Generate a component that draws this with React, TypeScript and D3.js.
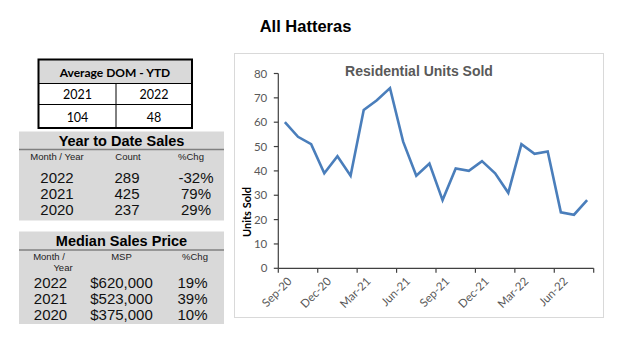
import React from "react";
import * as d3 from "d3";

const months = [
  "Sep-20","Oct-20","Nov-20","Dec-20","Jan-21","Feb-21","Mar-21","Apr-21","May-21","Jun-21","Jul-21","Aug-21",
  "Sep-21","Oct-21","Nov-21","Dec-21","Jan-22","Feb-22","Mar-22","Apr-22","May-22","Jun-22","Jul-22","Aug-22",
];
const unitsSold = [60,54,51,39,46,38,65,69,74,52,38,43,28,41,40,44,39,31,51,47,48,23,22,28];
const yTicks = [0,10,20,30,40,50,60,70,80];

const domYears = ["2021","2022"];
const domValues = ["104","48"];

const ytdYears = ["2022","2021","2020"];
const ytdCounts = ["289","425","237"];
const ytdChg = ["-32%","79%","29%"];

const mspYears = ["2022","2021","2020"];
const mspValues = ["$620,000","$523,000","$375,000"];
const mspChg = ["19%","39%","10%"];

const ARIAL = "'Liberation Sans', Arial, sans-serif";
const CAL = "Lato, 'Open Sans', sans-serif";

export default function App() {
  const x0 = 278.3, x1 = 593.7;
  const x = d3.scaleBand<string>().domain(months).range([x0, x1]).paddingInner(0).paddingOuter(0);
  const y = d3.scaleLinear().domain([0, 80]).range([268.3, 73.5]);
  const line = d3.line<number>()
    .x((_, i) => (x(months[i]) as number) + x.bandwidth() / 2)
    .y((d) => y(d));
  const tickIdx = d3.range(0, months.length + 1, 3);
  const labelIdx = d3.range(0, months.length, 3);

  return (
    <svg width={624} height={344} style={{ position: "absolute", left: 0, top: 0, background: "#fff" }}>
      <text x={305.5} y={31.5} textAnchor="middle" fontFamily={ARIAL} fontWeight="bold" fontSize={16.5} fill="#000">All Hatteras</text>

      {/* Average DOM table */}
      <rect x={38.5} y={59.5} width={153.5} height={24} fill="#d9d9d9" />
      <rect x={38.5} y={59.5} width={153.5} height={68.5} fill="none" stroke="#000" strokeWidth={2} />
      <line x1={38.5} x2={192} y1={83.5} y2={83.5} stroke="#000" strokeWidth={1} />
      <line x1={38.5} x2={192} y1={104.5} y2={104.5} stroke="#000" strokeWidth={1} />
      <line x1={116} x2={116} y1={83.5} y2={128} stroke="#000" strokeWidth={1} />
      <text x={115} y={77} textAnchor="middle" fontFamily={CAL} fontWeight="bold" fontSize={12}>Average DOM - YTD</text>
      {domYears.map((d, i) => (
        <text key={d} x={i === 0 ? 77.5 : 154} y={99} textAnchor="middle" fontFamily={CAL} fontSize={12.5}>{d}</text>
      ))}
      {domValues.map((d, i) => (
        <text key={d} x={i === 0 ? 77.5 : 154} y={122} textAnchor="middle" fontFamily={CAL} fontSize={12.5}>{d}</text>
      ))}

      {/* Year to Date Sales */}
      <rect x={19} y={131.5} width={205} height={89} fill="#d9d9d9" />
      <line x1={19} x2={224} y1={149.5} y2={149.5} stroke="#808080" strokeWidth={1.5} />
      <text x={121.5} y={146} textAnchor="middle" fontFamily={ARIAL} fontWeight="bold" fontSize={14.5}>Year to Date Sales</text>
      <text x={57} y={160} textAnchor="middle" fontFamily={ARIAL} fontSize={9.5} fill="#222">Month / Year</text>
      <text x={128} y={160} textAnchor="middle" fontFamily={ARIAL} fontSize={9.5} fill="#222">Count</text>
      <text x={191} y={160} textAnchor="middle" fontFamily={ARIAL} fontSize={9.5} fill="#222">%Chg</text>
      {ytdYears.map((d, i) => (
        <g key={d} fontFamily={ARIAL} fontSize={15} fill="#111">
          <text x={57} y={183 + i * 16.2} textAnchor="middle">{d}</text>
          <text x={127} y={183 + i * 16.2} textAnchor="middle">{ytdCounts[i]}</text>
          <text x={196} y={183 + i * 16.2} textAnchor="middle">{ytdChg[i]}</text>
        </g>
      ))}

      {/* Median Sales Price */}
      <rect x={19} y={231.5} width={205} height={92.5} fill="#d9d9d9" />
      <line x1={19} x2={224} y1={250} y2={250} stroke="#808080" strokeWidth={1.5} />
      <text x={121.5} y={246} textAnchor="middle" fontFamily={ARIAL} fontWeight="bold" fontSize={14.5}>Median Sales Price</text>
      <text x={49} y={260} textAnchor="middle" fontFamily={ARIAL} fontSize={9.5} fill="#222">Month /</text>
      <text x={63} y={271} textAnchor="middle" fontFamily={ARIAL} fontSize={9.5} fill="#222">Year</text>
      <text x={121.5} y={260} textAnchor="middle" fontFamily={ARIAL} fontSize={9.5} fill="#222">MSP</text>
      <text x={195} y={260} textAnchor="middle" fontFamily={ARIAL} fontSize={9.5} fill="#222">%Chg</text>
      {mspYears.map((d, i) => (
        <g key={d} fontFamily={ARIAL} fontSize={15} fill="#111">
          <text x={50.5} y={287.5 + i * 16} textAnchor="middle">{d}</text>
          <text x={121.5} y={287.5 + i * 16} textAnchor="middle">{mspValues[i]}</text>
          <text x={192.5} y={287.5 + i * 16} textAnchor="middle">{mspChg[i]}</text>
        </g>
      ))}

      {/* Chart frame */}
      <rect x={234.5} y={53.5} width={369} height={264} fill="#fff" stroke="#d9d9d9" strokeWidth={1} />
      <text x={419} y={75.5} textAnchor="middle" fontFamily={ARIAL} fontWeight="bold" fontSize={14} fill="#595959">Residential Units Sold</text>

      {/* y axis */}
      <line x1={x0} x2={x0} y1={y(80)} y2={y(0)} stroke="#404040" strokeWidth={1.2} />
      {yTicks.map((t) => (
        <g key={t}>
          <line x1={x0 - 4.5} x2={x0} y1={y(t)} y2={y(t)} stroke="#404040" strokeWidth={1.2} />
          <text x={x0 - 11} y={y(t)} dy="0.35em" textAnchor="end" fontFamily={CAL} fontSize={11.5} fill="#595959">{t}</text>
        </g>
      ))}
      <text transform={`translate(251, 212) rotate(-90)`} textAnchor="middle" fontFamily={CAL} fontWeight="bold" fontSize={11} fill="#000">Units Sold</text>

      {/* x axis */}
      <line x1={x0} x2={x1} y1={y(0)} y2={y(0)} stroke="#404040" strokeWidth={1.2} />
      {tickIdx.map((i) => {
        const xx = x0 + i * x.bandwidth();
        return <line key={i} x1={xx} x2={xx} y1={y(0)} y2={y(0) + 4.5} stroke="#404040" strokeWidth={1.2} />;
      })}
      {labelIdx.map((i) => {
        const cx = (x(months[i]) as number) + x.bandwidth() / 2;
        return (
          <text key={i} transform={`translate(${cx + 2}, ${y(0) + 8}) rotate(-45)`} textAnchor="end" dy="0.7em"
            fontFamily={CAL} fontSize={11.5} fill="#595959">{months[i]}</text>
        );
      })}

      <path d={line(unitsSold) as string} fill="none" stroke="#4a7ebb" strokeWidth={2.6} strokeLinejoin="miter" />
    </svg>
  );
}
